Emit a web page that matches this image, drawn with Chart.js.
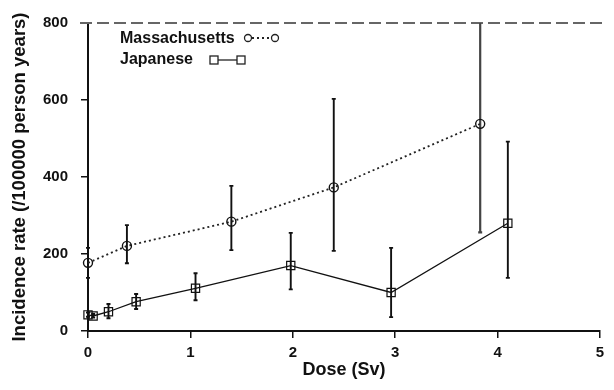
<!DOCTYPE html>
<html>
<head>
<meta charset="utf-8">
<script src="https://cdn.jsdelivr.net/npm/chart.js@4/dist/chart.umd.min.js"></script>
<style>
  html, body { margin: 0; padding: 0; background: #fff; }
</style>
</head>
<body>
<canvas id="GraficoDosis" width="614" height="390"></canvas>
<script>
// datos
var massDose = [0, 0.38, 1.40, 2.40, 3.83];
var massRate = [177, 221, 284, 373, 538];
var massLow  = [138, 176, 210, 208, 256];
var massHigh = [216, 275, 377, 603, 800];

var japDose = [0, 0.05, 0.2, 0.47, 1.05, 1.98, 2.96, 4.1];
var japRate = [42, 39, 50, 76, 111, 170, 100, 280];
var japLow  = [37, 35, 33, 57, 80, 108, 36, 138];
var japHigh = [48, 44, 70, 96, 150, 255, 216, 492];

var xTicks = [0, 1, 2, 3, 4, 5];
var yTicks = [0, 200, 400, 600, 800];
var topeY = 800;

var fuente = '"Liberation Sans", Arial, sans-serif';

function puntos(xs, ys) {
  return xs.map(function (v, i) { return { x: v, y: ys[i] }; });
}

// barras de error y linea discontinua superior
var barras = {
  id: 'barras',
  beforeDatasetsDraw: function (chart) {
    var ctx = chart.ctx, sx = chart.scales.x, sy = chart.scales.y, area = chart.chartArea;
    ctx.save();
    var yt = sy.getPixelForValue(topeY);
    ctx.strokeStyle = '#666';
    ctx.lineWidth = 2.2;
    ctx.setLineDash([12, 5]);
    ctx.beginPath();
    ctx.moveTo(area.left - 8, yt);
    ctx.lineTo(area.right + 3, yt);
    ctx.stroke();
    ctx.setLineDash([]);

    var series = [[massDose, massLow, massHigh], [japDose, japLow, japHigh]];
    series.forEach(function (s) {
      for (var i = 0; i < s[0].length; i++) {
        var px = sx.getPixelForValue(s[0][i]);
        var lo = sy.getPixelForValue(s[1][i]);
        var hi = sy.getPixelForValue(s[2][i]);
        var cortada = s[2][i] >= topeY;
        ctx.strokeStyle = cortada ? '#444' : '#111';
        ctx.lineWidth = cortada ? 2.2 : 1.9;
        ctx.beginPath();
        ctx.moveTo(px, lo); ctx.lineTo(px, hi);
        ctx.moveTo(px - 2, lo); ctx.lineTo(px + 2, lo);
        if (!cortada) { ctx.moveTo(px - 2, hi); ctx.lineTo(px + 2, hi); }
        ctx.stroke();
      }
    });
    ctx.restore();
  }
};

// leyenda dibujada a mano (texto primero, simbolo despues)
var leyenda = {
  id: 'leyenda',
  afterDraw: function (chart) {
    var ctx = chart.ctx;
    ctx.save();
    ctx.fillStyle = '#111';
    ctx.font = 'bold 16px ' + fuente;
    ctx.textBaseline = 'alphabetic';
    ctx.fillText('Massachusetts', 120, 43);
    ctx.fillText('Japanese', 120, 64);

    ctx.strokeStyle = '#222';
    ctx.lineWidth = 1.8;
    ctx.setLineDash([2, 3]);
    ctx.beginPath(); ctx.moveTo(252, 38); ctx.lineTo(271, 38); ctx.stroke();
    ctx.setLineDash([]);
    ctx.lineWidth = 1.3;
    [248, 275].forEach(function (cx) {
      ctx.beginPath(); ctx.arc(cx, 38, 3.5, 0, Math.PI * 2); ctx.stroke();
    });
    ctx.beginPath(); ctx.moveTo(218, 60); ctx.lineTo(237, 60); ctx.stroke();
    [214, 241].forEach(function (cx) {
      ctx.strokeRect(cx - 4, 56, 8, 8);
    });
    ctx.restore();
  }
};

var ctx1 = document.getElementById('GraficoDosis').getContext('2d');
var data1 = {
  datasets: [{
    label: 'Massachusetts',
    data: puntos(massDose, massRate),
    borderColor: '#222',
    borderWidth: 1.8,
    borderDash: [2, 3],
    pointStyle: 'circle',
    pointRadius: 4.5,
    pointBorderWidth: 1.4,
    pointBorderColor: '#111',
    pointBackgroundColor: 'rgba(0,0,0,0)',
    clip: false
  }, {
    label: 'Japanese',
    data: puntos(japDose, japRate),
    borderColor: '#111',
    borderWidth: 1.3,
    pointStyle: 'rect',
    pointRadius: 5.8,
    pointBorderWidth: 1.2,
    pointBorderColor: '#111',
    pointBackgroundColor: 'rgba(0,0,0,0)',
    clip: false
  }]
};
var options1 = {
  responsive: false,
  animation: false,
  layout: { padding: { top: 23, right: 14, left: 0, bottom: 0 } },
  plugins: { legend: { display: false }, tooltip: { enabled: false } },
  scales: {
    x: {
      type: 'linear',
      min: 0,
      max: 5,
      afterBuildTicks: function (s) { s.ticks = xTicks.map(function (v) { return { value: v }; }); },
      afterFit: function (s) { s.height = 59; },
      ticks: { color: '#111', padding: 6, font: { family: fuente, size: 15, weight: 'bold' } },
      grid: { drawOnChartArea: false, drawTicks: true, tickLength: 7, color: '#111', lineWidth: 1.5 },
      border: { color: '#111', width: 2 },
      title: { display: true, text: 'Dose (Sv)', color: '#111', font: { family: fuente, size: 18, weight: 'bold' }, padding: { top: 0, bottom: 9 } }
    },
    y: {
      min: 0,
      max: 800,
      afterBuildTicks: function (s) { s.ticks = yTicks.map(function (v) { return { value: v }; }); },
      afterFit: function (s) { s.width = 88; },
      ticks: { color: '#111', padding: 13, font: { family: fuente, size: 15, weight: 'bold' } },
      grid: { drawOnChartArea: false, drawTicks: true, tickLength: 7, color: '#111', lineWidth: 1.5 },
      border: { color: '#111', width: 2 },
      title: { display: true, text: 'Incidence rate (/100000 person years)', color: '#111', font: { family: fuente, size: 18.5, weight: 'bold' }, padding: { top: 9, bottom: 0 } }
    }
  }
};
var GraficoDosis = new Chart(ctx1, {
  type: 'line',
  data: data1,
  options: options1,
  plugins: [barras, leyenda]
});
</script>
</body>
</html>
